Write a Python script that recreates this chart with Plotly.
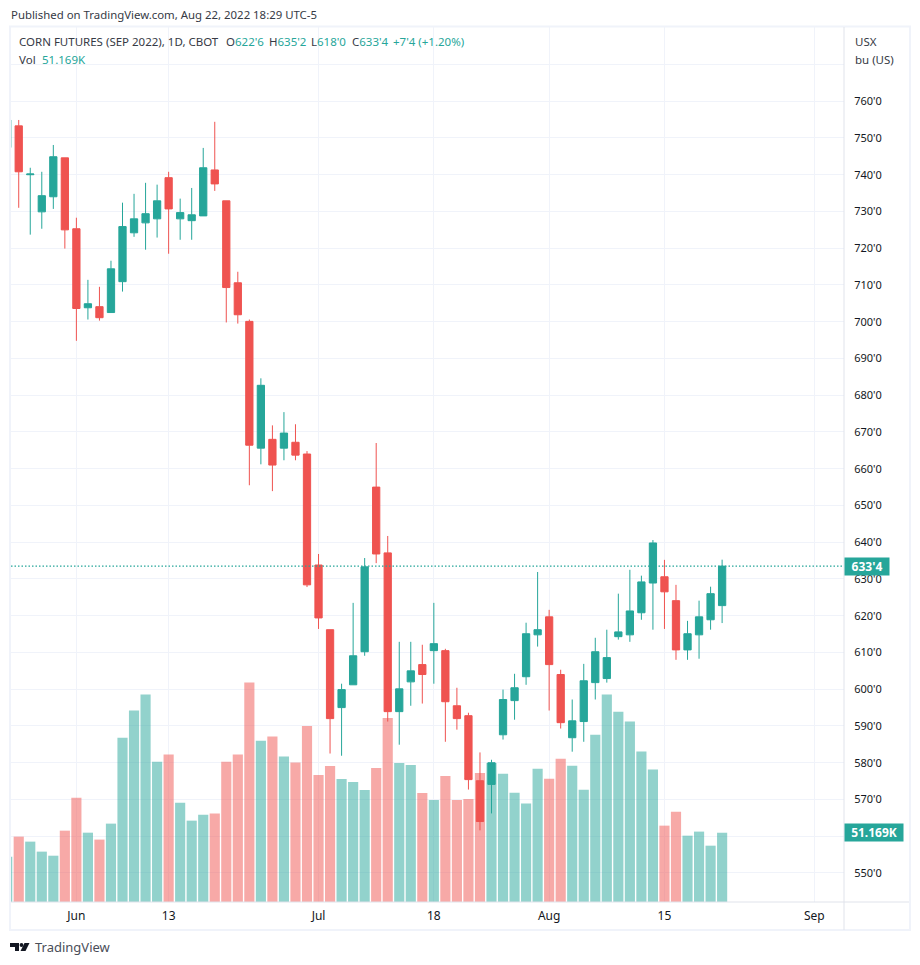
import plotly.graph_objects as go

# --- DATA, one entry per trading day from May 23 2022 ---
opens = [747.4, 753.3, 740.0, 729.9, 734.0, 744.6, 725.3, 703.8, 704.1, 702.5, 710.9, 724.2, 726.9, 728.0, 739.2, 728.0,
         727.5, 728.8, 741.3, 732.9, 710.6, 700.1, 665.6, 668.0, 665.6, 667.2, 664.0, 633.8, 616.2, 595.0, 601.2, 610.2,
         655.0, 637.1, 593.9, 602.0, 606.7, 610.5, 610.5, 595.5, 592.8, 575.1, 574.1, 587.6, 596.9, 603.4, 614.8, 619.7,
         604.0, 586.8, 591.2, 601.8, 602.9, 614.3, 614.8, 620.8, 628.9, 630.6, 624.1, 610.7, 614.8, 618.9, 622.75]
highs = [754.9, 754.9, 741.9, 740.8, 748.1, 744.6, 728.3, 711.4, 709.5, 716.6, 732.4, 734.8, 737.8, 737.3, 740.8, 733.5,
         736.4, 747.3, 754.4, 732.9, 713.6, 700.6, 684.6, 671.8, 675.4, 672.1, 664.8, 636.8, 616.2, 601.5, 623.5, 635.7,
         667.0, 641.7, 612.9, 612.9, 612.1, 623.5, 611.0, 600.4, 593.6, 582.8, 580.8, 599.9, 604.2, 618.1, 631.9, 621.6,
         605.3, 597.2, 606.9, 614.0, 616.2, 626.0, 632.5, 630.9, 640.6, 635.2, 628.4, 618.6, 624.1, 627.9, 635.25]
lows = [747.4, 731.0, 723.7, 725.3, 730.7, 719.9, 694.8, 700.6, 700.3, 702.5, 708.2, 723.1, 719.6, 722.9, 718.5, 722.3,
        722.3, 728.8, 735.6, 699.8, 699.5, 655.5, 661.2, 653.9, 662.3, 662.3, 627.8, 616.4, 582.5, 581.9, 601.2, 609.1,
        634.3, 591.2, 584.9, 595.5, 596.1, 601.5, 585.7, 589.0, 572.7, 561.6, 566.2, 586.3, 591.7, 601.2, 611.6, 594.2,
        589.3, 583.0, 585.7, 597.2, 601.8, 613.5, 612.9, 618.9, 616.2, 616.4, 608.0, 608.0, 608.3, 616.2, 618.0]
closes = [754.9, 740.8, 740.2, 734.3, 744.9, 725.0, 703.6, 704.9, 701.1, 714.4, 725.9, 728.0, 729.4, 732.9, 730.7, 729.7,
          729.1, 741.9, 737.5, 709.3, 701.9, 666.4, 682.7, 661.0, 669.7, 663.7, 628.4, 619.4, 592.0, 599.9, 609.1, 633.3,
          636.8, 593.9, 600.1, 605.0, 604.0, 612.4, 596.6, 592.0, 575.4, 564.0, 580.0, 597.2, 600.4, 615.1, 616.2, 606.7,
          590.9, 591.4, 602.3, 610.2, 608.6, 615.6, 621.3, 629.2, 639.8, 626.5, 610.7, 615.1, 619.7, 626.0, 633.5]
volumes = [33.5, 48.3, 44.6, 37.2, 34.2, 52.7, 77.1, 51.2, 46.1, 57.9, 121.4, 141.4, 153.2, 103.7, 108.9, 73.4,
           60.1, 64.5, 65.3, 103.7, 108.9, 162.1, 119.2, 122.2, 107.4, 103.0, 130.0, 93.8, 100.5, 90.9, 88.7, 82.8,
           99.0, 136.0, 102.7, 101.2, 80.5, 75.4, 93.1, 75.4, 76.1, 95.3, 102.7, 94.8, 80.8, 72.7, 98.5, 91.1,
           105.9, 100.7, 83.0, 123.6, 153.2, 140.6, 133.3, 111.1, 97.8, 56.4, 66.7, 49.0, 52.0, 41.6, 51.169]
bars = list(range(len(closes)))

date_ticks = [6, 14, 27, 37, 47, 57, 70]
date_labels = ["Jun", "13", "Jul", "18", "Aug", "15", "Sep"]
price_ticks = [760, 750, 740, 730, 720, 710, 700, 690, 680, 670, 660, 650, 640, 630, 620, 610, 600, 590, 580, 570, 550]
grid_prices = price_ticks + [770, 560]

GREEN = "#26a69a"
RED = "#ef5350"
INK = "#131722"

W, H = 920, 965
LEFT, RIGHT, TOP, BOTTOM = 11, 844, 27, 902


def px(x):
    return (x - LEFT) / (RIGHT - LEFT)


def py(y):
    return (BOTTOM - y) / (BOTTOM - TOP)


def price_label(p):
    whole = int(p)
    return f"{whole}'{int(round((p - whole) * 8))}"


fig = go.Figure()

# volume goes on the main axis so the candles sit on top of it
vol_colors = ["rgba(38,166,154,0.5)" if c >= o else "rgba(239,83,80,0.5)" for o, c in zip(opens, closes)]
fig.add_trace(go.Bar(x=bars, y=volumes, marker=dict(color=vol_colors, line_width=0), width=0.88,
                     yaxis="y", showlegend=False))
fig.add_trace(go.Candlestick(x=bars, open=opens, high=highs, low=lows, close=closes, yaxis="y2",
                             whiskerwidth=0, showlegend=False,
                             increasing=dict(line=dict(color=GREEN, width=1), fillcolor=GREEN),
                             decreasing=dict(line=dict(color=RED, width=1), fillcolor=RED)))

fig.update_layout(
    width=W, height=H,
    margin=dict(l=LEFT, r=W - RIGHT, t=TOP, b=H - BOTTOM),
    paper_bgcolor="white", plot_bgcolor="white",
    font=dict(family="Noto Sans", size=11, color=INK),
    boxgap=0.1, bargap=0.1,
    hovermode=False,
    xaxis=dict(range=[0.33, 72.57], rangeslider_visible=False, tickmode="array", tickvals=date_ticks,
               ticktext=date_labels, showgrid=True, gridcolor="#f0f3fa", gridwidth=1, zeroline=False,
               ticks="outside", ticklen=3, tickcolor="rgba(0,0,0,0)", tickfont=dict(size=12), showline=False),
    yaxis=dict(range=[0, 646.4], visible=False, showgrid=False),
    yaxis2=dict(range=[542.1, 780.2], overlaying="y", side="right", tickmode="array", tickvals=grid_prices,
                ticktext=[f"{p}'0" if p in price_ticks else "" for p in grid_prices], showgrid=True,
                gridcolor="#f0f3fa", gridwidth=1, zeroline=False, ticks="outside", ticklen=7,
                tickcolor="rgba(0,0,0,0)", tickfont=dict(size=11), showline=False),
)

shapes = [
    # outer frame and the axis separators
    dict(type="rect", xref="paper", yref="paper", x0=px(10), x1=px(910), y0=py(930), y1=py(26.5),
         line=dict(color="#f0f3fa", width=2), layer="below"),
    dict(type="line", xref="paper", yref="paper", x0=1, x1=1, y0=py(930), y1=py(27),
         line=dict(color="#e0e3eb", width=1)),
    dict(type="line", xref="paper", yref="paper", x0=0, x1=px(909), y0=0, y1=0,
         line=dict(color="#e0e3eb", width=1)),
    # last price line
    dict(type="line", xref="paper", yref="y2", x0=0, x1=1, y0=closes[-1], y1=closes[-1],
         line=dict(color=GREEN, width=1.3, dash="1.5px,2px")),
]
# TradingView logo
for path in (
    f"M{px(10)},{py(943)} L{px(19)},{py(943)} L{px(19)},{py(951)} L{px(15)},{py(951)} L{px(15)},{py(947)} L{px(10)},{py(947)} Z",
    f"M{px(24.5)},{py(943)} L{px(29.5)},{py(943)} L{px(25.5)},{py(951)} L{px(20.5)},{py(951)} Z",
):
    shapes.append(dict(type="path", xref="paper", yref="paper", path=path, fillcolor=INK, line_width=0))
shapes.append(dict(type="circle", xref="paper", yref="paper", x0=px(19.6), x1=px(23.4), y0=py(946.9), y1=py(943.1),
                   fillcolor=INK, line_width=0))
fig.update_layout(shapes=shapes)


def add_text(x, y, text, size=12, color=INK, **kw):
    fig.add_annotation(x=px(x), y=py(y), xref="paper", yref="paper", text=text, showarrow=False, xanchor="left",
                       yanchor="middle", font=dict(size=size, color=color), borderpad=0, **kw)


add_text(10, 15, "Published on TradingView.com, Aug 22, 2022 18:29 UTC-5", size=11.4, color="#363a45")
add_text(18, 41.5, "CORN FUTURES (SEP 2022), 1D, CBOT", size=11.5, color="#363a45")
ohlc = [("O", opens[-1], 225), ("H", highs[-1], 268), ("L", lows[-1], 310), ("C", closes[-1], 351)]
for letter, value, x in ohlc:
    add_text(x, 41.5, f'<span style="color:#363a45">{letter}</span>{price_label(value)}', size=11.5, color=GREEN)
add_text(392, 41.5, "+7'4 (+1.20%)", size=11.5, color=GREEN)
add_text(18, 59, "Vol", size=11.5, color="#363a45")
add_text(41, 59, f"{volumes[-1]:.3f}K", size=11.5, color=GREEN)
add_text(854, 41, "USX", size=11.5, color="#363a45")
add_text(854, 59, "bu (US)", size=11.5, color="#363a45")
add_text(34, 947, "TradingView", size=13, color="#4a4e59")

# value tags on the right axis
fig.add_annotation(x=1, xref="paper", y=closes[-1], yref="y2", text=f"<b>{price_label(closes[-1])}</b>", showarrow=False,
                   xanchor="left", yanchor="middle", bgcolor=GREEN, width=44, height=17, align="center",
                   borderpad=0, font=dict(size=12, color="white"))
fig.add_annotation(x=1, xref="paper", y=volumes[-1], yref="y", text=f"<b>{volumes[-1]:.3f}K</b>", showarrow=False,
                   xanchor="left", yanchor="middle", bgcolor=GREEN, width=58, height=17, align="center",
                   borderpad=0, font=dict(size=12, color="white"))

fig.write_html("out.html", config=dict(displayModeBar=False),
               post_script="document.body.style.margin='0';document.body.style.overflow='hidden';")
